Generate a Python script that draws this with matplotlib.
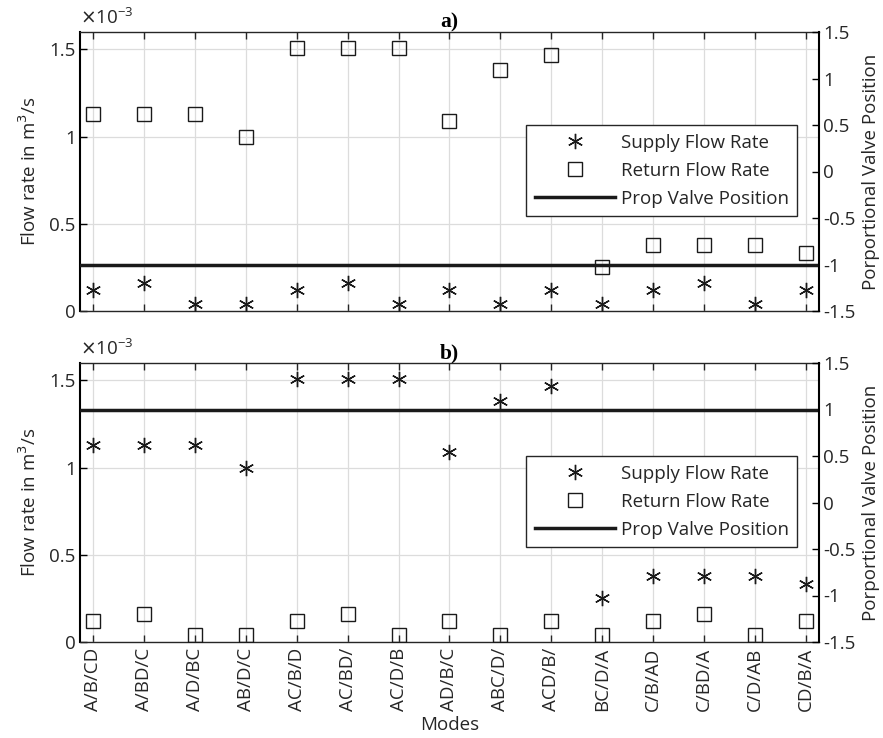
import matplotlib
matplotlib.use("Agg")
import matplotlib.pyplot as plt
import numpy as np
from matplotlib.lines import Line2D

plt.rcParams['font.family'] = ['Open Sans', 'DejaVu Sans']

modes = ["A/B/CD", "A/BD/C", "A/D/BC", "AB/D/C", "AC/B/D", "AC/BD/", "AC/D/B",
         "AD/B/C", "ABC/D/", "ACD/B/", "BC/D/A", "C/B/AD", "C/BD/A", "C/D/AB", "CD/B/A"]

# flow rates in units of 1e-3 m^3/s
a_supply = [0.12, 0.16, 0.04, 0.04, 0.12, 0.16, 0.04, 0.12, 0.04, 0.12, 0.04, 0.12, 0.16, 0.04, 0.12]
a_return = [1.13, 1.13, 1.13, 1.00, 1.51, 1.51, 1.51, 1.09, 1.38, 1.47, 0.25, 0.38, 0.38, 0.38, 0.33]
a_valve = -1.0

b_supply = [1.13, 1.13, 1.13, 1.00, 1.51, 1.51, 1.51, 1.09, 1.38, 1.47, 0.25, 0.38, 0.38, 0.38, 0.33]
b_return = [0.12, 0.16, 0.04, 0.04, 0.12, 0.16, 0.04, 0.12, 0.04, 0.12, 0.04, 0.12, 0.16, 0.04, 0.12]
b_valve = 1.0

left_ticks = [0, 0.5, 1, 1.5]
left_labels = ['0', '0.5', '1', '1.5']
right_ticks = [-1.5, -1, -0.5, 0, 0.5, 1, 1.5]
right_labels = ['-1.5', '-1', '-0.5', '0', '0.5', '1', '1.5']
legend_labels = ['Supply Flow Rate', 'Return Flow Rate', 'Prop Valve Position']

W, H = 883, 738
fig = plt.figure(figsize=(W / 100, H / 100), dpi=100)

AX_L, AX_R = 80, 819
panels = [
    (32, 311, a_supply, a_return, a_valve, 'a)', False),
    (363, 642, b_supply, b_return, b_valve, 'b)', True),
]

FS = 13.5
tick_col = '#262626'
mk_col = '#1a1a1a'
star = (6, 2, 0)

for top, bot, sup, ret, valve, title, show_x in panels:
    ax = fig.add_axes([AX_L / W, 1 - bot / H, (AX_R - AX_L) / W, (bot - top) / H])
    x = np.arange(1, len(modes) + 1)
    ax.plot(x, sup, linestyle='none', marker=star, markersize=11, markeredgewidth=1.0,
            color=mk_col, zorder=3)
    ax.plot(x, ret, linestyle='none', marker='s', markersize=10, markeredgewidth=1.0,
            markerfacecolor='none', markeredgecolor=mk_col, zorder=3)
    ax.set_xlim(0.75, 15.25)
    ax.set_ylim(0, 1.6)
    ax.set_yticks(left_ticks)
    ax.set_yticklabels(left_labels)
    ax.set_xticks(x)
    if show_x:
        ax.set_xticklabels(modes, rotation=90, fontsize=FS, color=tick_col)
        ax.set_xlabel('Modes', fontsize=FS, color=tick_col, labelpad=4)
    else:
        ax.set_xticklabels([])
    ax.grid(True, color='#dcdcdc', linewidth=0.9)
    ax.set_axisbelow(True)
    ax.tick_params(axis='x', direction='in', top=True, length=5, width=1, colors=tick_col, pad=4)
    ax.tick_params(axis='y', direction='in', length=5, width=1, labelsize=FS, colors='black', pad=3)
    ax.tick_params(axis='y', labelcolor=tick_col)
    ax.set_ylabel('Flow rate in m$^3$/s', fontsize=FS, color=tick_col, labelpad=7)
    for s in ['top', 'bottom']:
        ax.spines[s].set_color('#262626')
        ax.spines[s].set_linewidth(1.0)
    ax.spines['left'].set_linewidth(1.5)
    ax.spines['left'].set_color('black')
    ax.spines['right'].set_visible(False)
    ax.annotate(r'$\times\mathregular{10^{-3}}$', xy=(0, 1), xycoords='axes fraction',
                xytext=(0, 6), textcoords='offset points', fontsize=FS,
                color=tick_col, ha='left', va='baseline')
    ax.set_title(title, fontsize=15.5, fontweight='bold', family='Liberation Serif', pad=3)

    ax2 = ax.twinx()
    ax2.axhline(valve, color=mk_col, linewidth=2.5, zorder=2)
    ax2.set_ylim(-1.5, 1.5)
    ax2.set_yticks(right_ticks)
    ax2.set_yticklabels(right_labels)
    ax2.tick_params(axis='y', direction='in', length=5, width=1, labelsize=FS,
                    colors='black', labelcolor=tick_col, pad=3)
    ax2.set_ylabel('Porportional Valve Position', fontsize=FS, color=tick_col, labelpad=5)
    ax2.spines['right'].set_linewidth(1.5)
    ax2.spines['right'].set_color('black')
    for s in ['top', 'bottom', 'left']:
        ax2.spines[s].set_visible(False)

    handles = [
        Line2D([], [], linestyle='none', marker=star, markersize=11, markeredgewidth=1.0, color=mk_col),
        Line2D([], [], linestyle='none', marker='s', markersize=10, markeredgewidth=1.0,
               markerfacecolor='none', markeredgecolor=mk_col),
        Line2D([], [], color=mk_col, linewidth=2.5),
    ]
    leg = ax2.legend(handles, legend_labels,
                     loc='upper left', bbox_to_anchor=(0.6035, 0.667), fontsize=FS,
                     frameon=True, fancybox=False, edgecolor='#262626', framealpha=1,
                     handlelength=4.27, handletextpad=0.32, borderpad=0.46, labelspacing=0.54,
                     borderaxespad=0)
    leg.get_frame().set_linewidth(1.0)
    for t in leg.get_texts():
        t.set_color(tick_col)

fig.savefig('out.png', dpi=100)
